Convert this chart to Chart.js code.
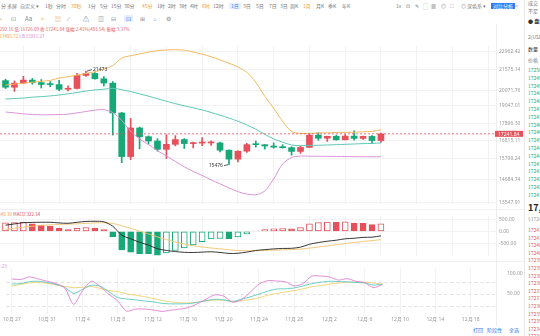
<!DOCTYPE html>
<html lang="zh-CN">
<head>
<meta charset="utf-8">
<title>BTC/USDT 日K</title>
<script src="https://cdn.jsdelivr.net/npm/chart.js@4.4.1/dist/chart.umd.min.js"></script>
<style>
  html, body { margin: 0; padding: 0; background: #fff; }
  body { width: 540px; height: 336px; position: relative; overflow: hidden;
         font-family: "Noto Sans CJK SC", "Noto Sans", sans-serif; }
  canvas { position: absolute; left: 0; }
  .t { position: absolute; white-space: nowrap; font-size: 5px; line-height: 6px; color: #777; }
  .row1 .t { top: 3px; }
  .row2 .t { top: 15px; font-size: 6px; line-height: 7px; color: #888; }
  .on { color: #f0a030 !important; }
  .sel { color: #2f7df6 !important; background: #e6efff; padding: 0 2px; }
  .btn { background: #2f7df6; color: #fff !important; padding: 0 2px; }
  .book .t { left: 528px; font-size: 5px; }
  .ask { color: #17a878 !important; }
  .bid { color: #e5505a !important; }
  .vsep { position: absolute; width: 1px; background: #e8e8e8; }
  .hsep { position: absolute; left: 0; width: 524px; height: 1px; background: #f0f0f0; }
</style>
</head>
<body>

<!-- 顶部周期栏 -->
<div class="row1">
  <span class="t" style="left:1px">分 多屏</span>
  <span class="t" style="left:20px">自定义 ▾</span>
  <span class="t" style="left:45px">1秒</span>
  <span class="t" style="left:56px">分时</span>
  <span class="t on" style="left:71px">30秒</span>
  <span class="t" style="left:88px">1分</span>
  <span class="t" style="left:100px">5分</span>
  <span class="t" style="left:111px">15分</span>
  <span class="t" style="left:124px">30分</span>
  <span class="t on" style="left:142px">45分</span>
  <span class="t" style="left:157px">1时</span>
  <span class="t" style="left:168px">2时</span>
  <span class="t" style="left:179px">3时</span>
  <span class="t" style="left:190px">4时</span>
  <span class="t on" style="left:202px">6时</span>
  <span class="t" style="left:213px">12时</span>
  <span class="t sel" style="left:229px">1日</span>
  <span class="t" style="left:243px">3日</span>
  <span class="t" style="left:256px">5日</span>
  <span class="t" style="left:269px">7日</span>
  <span class="t" style="left:280px">3日</span>
  <span class="t" style="left:290px">周K</span>
  <span class="t on" style="left:303px">1月</span>
  <span class="t" style="left:316px">月K</span>
  <span class="t" style="left:328px">季K</span>
  <span class="t" style="left:342px">年K</span>
  <span class="t" style="left:396px">1x</span>
  <span class="t" style="left:406px">⊡</span>
  <span class="t" style="left:415px">✎</span>
  <span class="t" style="left:423px">⬚</span>
  <span class="t" style="left:431px">▦</span>
  <span class="t" style="left:441px">◎</span>
  <span class="t" style="left:450px">⛶</span>
  <span class="t" style="left:461px">◎ 深色系 ▾</span>
  <span class="t btn" style="left:491px">对比分析</span>
  <span class="t" style="left:515px">&lt;</span>
</div>

<!-- 画线工具 -->
<div class="row2">
  <span class="t" style="left:0px">‹</span>
  <span class="t" style="left:11px">⊡</span>
  <span class="t" style="left:25px">Aa</span>
  <span class="t on" style="left:40px">✧</span>
  <span class="t on" style="left:55px">▤</span>
  <span class="t" style="left:68px">⁄</span>
  <span class="t" style="left:83px">⚠</span>
  <span class="t" style="left:98px">▥</span>
  <span class="t" style="left:111px">⊟</span>
  <span class="t sel" style="left:124px">⊡</span>
  <span class="t" style="left:140px">⊞</span>
  <span class="t" style="left:153px">⌂</span>
  <span class="t" style="left:166px">⚙</span>
</div>

<!-- 行情信息 -->
<span class="t" style="left:-11px;top:26px;font-size:4.5px;color:#e4606d">高:17292.16 低:16726.09 收:17241.84 涨幅:2.41%(401.54) 振幅:3.37%</span>
<span class="t" style="left:-8px;top:33px;font-size:4.5px;color:#f0a048">UB:17485.72 <span style="color:#c97fd1">LB:15911.27</span></span>
<span class="t" style="left:-13px;top:211px;font-size:4.5px;color:#f0a048">DEA:-349.39 <span style="color:#e5505a">MACD:322.14</span></span>
<span class="t" style="left:-15px;top:263px;font-size:4.5px;color:#d77fd0">RSI6:72.23</span>

<!-- 深度列表（右侧，被截断） -->
<div class="book" id="book"></div>

<div class="vsep" style="left:524px;top:0;height:336px"></div>
<div class="vsep" style="left:496px;top:24px;height:302px;background:#eeeeee"></div>
<div class="hsep" style="top:209px"></div>
<div class="hsep" style="top:261px"></div>

<canvas id="kline" width="524" height="170" style="top:40px"></canvas>
<canvas id="macd" width="524" height="52" style="top:210px"></canvas>
<canvas id="rsi" width="524" height="64" style="top:262px"></canvas>

<span class="t" style="left:473px;top:327px;color:#2f7df6">打回</span>
<span class="t" style="left:487px;top:327px;color:#2f7df6">阶段性</span>
<span class="t" style="left:509px;top:327px;color:#2f7df6">全选</span>

<script>
// 日期轴（10月27日 ~ 12月20日），K线数据只到12月8日
const dates = [
  "10月 27", "10月 28", "10月 29", "10月 30", "10月 31",
  "11月 1", "11月 2", "11月 3", "11月 4", "11月 5", "11月 6", "11月 7", "11月 8",
  "11月 9", "11月 10", "11月 11", "11月 12", "11月 13", "11月 14", "11月 15",
  "11月 16", "11月 17", "11月 18", "11月 19", "11月 20", "11月 21", "11月 22",
  "11月 23", "11月 24", "11月 25", "11月 26", "11月 27", "11月 28", "11月 29",
  "11月 30", "12月 1", "12月 2", "12月 3", "12月 4", "12月 5", "12月 6",
  "12月 7", "12月 8", "12月 9", "12月 10", "12月 11", "12月 12", "12月 13",
  "12月 14", "12月 15", "12月 16", "12月 17", "12月 18", "12月 19", "12月 20"
];

// 日K 开高低收
const opens = [20771, 20295, 20591, 20809, 20627, 20490, 20483, 20151, 20207, 21148, 21299, 20905,
  20591, 18547, 15922, 17601, 17070, 16812, 16330, 16619, 16900, 16662, 16692, 16700, 16700,
  16280, 15781, 16226, 16603, 16598, 16522, 16458, 16428, 16212, 16442, 17163, 16977, 17092,
  16885, 17105, 16967, 17088, 16840.30];
const highs = [20875, 20750, 21085, 20931, 20847, 20700, 20800, 20393, 21302, 21473, 21365, 21069,
  20700, 18587, 18199, 17658, 17119, 16954, 17190, 17134, 16960, 16751, 17011, 16820, 16753,
  16300, 16253, 16674, 16812, 16610, 16701, 16600, 16483, 16525, 17250, 17320, 17105, 17159,
  17203, 17424, 17107, 17142, 17292.16];
const lows = [20200, 20000, 20552, 20512, 20237, 20330, 20048, 20031, 20180, 21080, 20880, 20384,
  17166, 15588, 15754, 16361, 16631, 16229, 15815, 16527, 16378, 16410, 16546, 16560, 16180,
  15476, 15630, 16160, 16458, 16342, 16400, 16401, 16001, 16100, 16428, 16855, 16788, 16863,
  16878, 16867, 16906, 16678, 16726.09];
const closes = [20295, 20591, 20809, 20627, 20490, 20483, 20151, 20207, 21148, 21299, 20905, 20591,
  18547, 15922, 17601, 17070, 16812, 16330, 16619, 16900, 16662, 16692, 16700, 16700, 16280,
  15781, 16226, 16603, 16598, 16522, 16458, 16428, 16212, 16442, 17163, 16977, 17092, 16885,
  17105, 16967, 17088, 16840.30, 17241.84];

// BOLL(20,2)
const bollUpper = [20452, 20518, 20585, 20652, 20720, 20787, 20957, 21052, 21176, 21300, 21425,
  21614, 21897, 22475, 22658, 22806, 22955, 23067, 23119, 23142, 23104, 22955, 22784, 22584,
  22329, 22076, 21791, 21370, 20652, 19669, 18855, 18016, 17382, 17270, 17270, 17298, 17298,
  17326, 17326, 17343, 17365, 17394, 17485.72];
const bollMid = [19478, 19510, 19541, 19605, 19637, 19688, 19752, 19829, 19927, 20024, 20102,
  20155, 20220, 20122, 19991, 19829, 19669, 19497, 19321, 19164, 19021, 18885, 18745, 18581,
  18400, 18222, 18016, 17783, 17524, 17214, 16936, 16744, 16582, 16539, 16555, 16566, 16582,
  16600, 16620, 16640, 16660, 16675, 16698.50];
const bollLower = [18611, 18551, 18490, 18448, 18430, 18430, 18448, 18472, 18551, 18641, 18733,
  18763, 18569, 18074, 17400, 16936, 16609, 16251, 15958, 15649, 15362, 15114, 14904, 14678,
  14474, 14269, 14084, 13966, 13934, 14116, 14726, 15513, 15870, 15950, 15945, 15940, 15935,
  15930, 15925, 15920, 15915, 15912, 15911.27];

// MACD(12,26,9)
const dif = [263, 315, 366, 379, 385, 385, 358, 341, 384, 420, 427, 404, 218, -155, -314, -458,
  -580, -733, -804, -852, -885, -892, -876, -862, -889, -932, -925, -874, -808, -771, -741,
  -721, -715, -667, -545, -471, -416, -373, -313, -291, -253, -245, -188.32];
const dea = [83, 130, 177, 217, 251, 278, 294, 303, 319, 339, 357, 366, 337, 238, 128, 11, -107,
  -232, -347, -448, -535, -607, -661, -701, -739, -777, -807, -820, -818, -809, -795, -780,
  -767, -747, -707, -660, -611, -563, -513, -469, -426, -390, -349.39];
const macdHist = [360, 370, 378, 323, 269, 215, 129, 75, 129, 161, 140, 75, -237, -786, -883,
  -937, -945, -1001, -915, -808, -700, -571, -431, -323, -301, -310, -237, -108, 20, 75, 108,
  118, 105, 160, 323, 377, 390, 380, 400, 355, 345, 290, 322.14];

// RSI(6,12,24)
const rsi6 = [86.6, 85.2, 91.7, 86.6, 80.8, 75.0, 64.1, 22.9, 56.9, 80.8, 67.8, 48.2, 31.5, 6.2,
  11.3, 11.3, 9.1, 5.5, 8.4, 11.3, 14.9, 24.3, 35.9, 46.8, 43.9, 28.6, 34.4, 53.3, 73.6, 82.3,
  81.5, 79.4, 69.2, 75.0, 93.9, 93.9, 91.7, 83.7, 87.3, 80.8, 77.2, 64.9, 72.8];
const rsi12 = [73.9, 75.0, 80.1, 80.8, 77.9, 72.9, 65.6, 50.4, 60.5, 70.7, 68.5, 54.7, 40.2, 36.6,
  34.4, 31.5, 29.4, 25.7, 24.3, 24.3, 25.0, 27.9, 32.3, 35.9, 34.4, 30.1, 35.9, 41.7, 48.9, 56.2,
  61.3, 62.0, 64.2, 69.2, 75.0, 78.6, 80.8, 80.1, 79.4, 77.9, 76.5, 71.4, 73.6];
const rsi24 = [68.5, 72.9, 76.5, 77.9, 75.7, 71.4, 67.8, 64.9, 65.6, 67.8, 62.7, 57.6, 54.7, 49.7,
  46.0, 42.4, 38.1, 33.0, 29.4, 27.2, 26.5, 28.6, 31.5, 33.7, 33.0, 30.8, 32.3, 35.2, 39.5, 46.0,
  50.4, 54.0, 57.6, 62.0, 67.1, 70.0, 73.6, 76.5, 78.6, 78.6, 78.6, 76.5, 73.6];

// 坐标刻度
const priceTicks = [22962.42, 21575.14, 20071.76, 19047.01, 17896.30, 16815.11, 15799.24, 14684.74, 13547.91];
const macdTicks = [500, 0, -500];
const rsiTicks = [100, 50];
const rsiLevels = [80, 50, 20];
const lastPrice = 17241.84;

// 右侧深度（只露出一截）
const askPrices = ["17250.1", "17249.8", "17249.2", "17248.7", "17248.1", "17247.6", "17247.0",
  "17246.5", "17246.1", "17245.4", "17244.9", "17244.3", "17243.8", "17243.2", "17242.7",
  "17242.3", "17241.9"];
const bidPrices = ["17241.8", "17241.3", "17240.9", "17240.4", "17239.8", "17239.2", "17238.7",
  "17238.1", "17237.6", "17237.0", "17236.5", "17235.9", "17235.4", "17234.8", "17234.2"];

const RED = "#e5505a";
const GREEN = "#17a878";
const GRID = "#f2f2f2";
const AXIS_TXT = "#999";
const FONT = "Noto Sans, sans-serif";

// 三个面板共用的横轴：绘图区宽 496px
const X_MIN = -0.615;
const X_MAX = 54.87;
const xTickIdx = [];
for (let i = 0; i < dates.length; i += 4) xTickIdx.push(i);

function xAxis(showLabels) {
  return {
    type: "linear",
    min: X_MIN,
    max: X_MAX,
    offset: false,
    border: { display: false },
    grid: { color: GRID, drawTicks: false },
    afterBuildTicks: (s) => { s.ticks = xTickIdx.map((v) => ({ value: v })); },
    ticks: {
      display: showLabels,
      autoSkip: false,
      maxRotation: 0,
      padding: 3,
      color: AXIS_TXT,
      font: { family: FONT, size: 5 },
      callback: (v) => dates[v] || "",
    },
    afterFit: (s) => { s.height = showLabels ? 12 : 0; },
  };
}

function rightAxis(extra) {
  return Object.assign({
    position: "right",
    border: { display: false },
    grid: { color: GRID, drawTicks: false },
    ticks: {
      padding: 3,
      color: AXIS_TXT,
      font: { family: FONT, size: 5 },
      callback: (v) => Number(v).toFixed(2),
    },
    afterFit: (s) => { s.width = 28; },
  }, extra);
}

const pts = (arr) => arr.map((v, i) => ({ x: i, y: v }));
const isUp = (i) => closes[i] >= opens[i];

// 现价虚线、现价标签、最高/最低标注
const klineMarks = {
  id: "klineMarks",
  afterDatasetsDraw(chart) {
    const { ctx, chartArea, scales } = chart;
    const y = scales.y.getPixelForValue(lastPrice);
    ctx.save();
    ctx.strokeStyle = RED;
    ctx.lineWidth = 0.8;
    ctx.setLineDash([2, 2]);
    ctx.beginPath();
    ctx.moveTo(chartArea.left, y);
    ctx.lineTo(chartArea.right, y);
    ctx.stroke();
    ctx.setLineDash([]);

    ctx.fillStyle = RED;
    ctx.fillRect(chartArea.right - 1, y - 3, 28, 6);
    ctx.fillStyle = "#fff";
    ctx.font = "5px " + FONT;
    ctx.textBaseline = "middle";
    ctx.textAlign = "left";
    ctx.fillText(lastPrice.toFixed(2), chartArea.right + 2, y + 0.3);

    // 区间最高 / 最低
    const hiVal = Math.max(...highs);
    const loVal = Math.min(...lows);
    const hiIdx = highs.indexOf(hiVal);
    const loIdx = lows.indexOf(loVal);
    ctx.strokeStyle = "#333";
    ctx.fillStyle = "#333";
    ctx.lineWidth = 0.8;
    const hx = scales.x.getPixelForValue(hiIdx);
    const hy = scales.y.getPixelForValue(hiVal);
    ctx.beginPath();
    ctx.moveTo(hx + 1, hy);
    ctx.lineTo(hx + 6, hy - 1.5);
    ctx.stroke();
    ctx.fillText(String(hiVal), hx + 7, hy - 1.5);
    const lx = scales.x.getPixelForValue(loIdx);
    const ly = scales.y.getPixelForValue(loVal);
    ctx.beginPath();
    ctx.moveTo(lx - 1, ly);
    ctx.lineTo(lx - 5, ly + 1);
    ctx.stroke();
    ctx.textAlign = "right";
    ctx.fillText(String(loVal), lx - 6, ly + 1);
    ctx.restore();
  },
};

// RSI 的 20/50/80 虚线
const rsiGuides = {
  id: "rsiGuides",
  beforeDatasetsDraw(chart) {
    const { ctx, chartArea, scales } = chart;
    ctx.save();
    ctx.strokeStyle = "#d8d8d8";
    ctx.lineWidth = 0.8;
    ctx.setLineDash([3, 3]);
    rsiLevels.forEach((lv) => {
      const y = Math.round(scales.y.getPixelForValue(lv)) + 0.5;
      ctx.beginPath();
      ctx.moveTo(chartArea.left, y);
      ctx.lineTo(chartArea.right, y);
      ctx.stroke();
    });
    ctx.restore();
  },
};

const baseOpts = {
  responsive: false,
  animation: false,
  layout: { padding: 0 },
  plugins: { legend: { display: false }, tooltip: { enabled: false } },
};

// 主图：K线 + BOLL（对数坐标）
new Chart(document.getElementById("kline"), {
  type: "bar",
  data: {
    datasets: [
      {
        label: "影线",
        data: lows.map((l, i) => ({ x: i, y: [l, highs[i]] })),
        backgroundColor: (c) => (isUp(c.dataIndex) ? RED : GREEN),
        barThickness: 1,
        grouped: false,
        order: 2,
      },
      {
        label: "实体",
        data: opens.map((o, i) => ({ x: i, y: [o, closes[i]] })),
        backgroundColor: (c) => (isUp(c.dataIndex) ? RED : GREEN),
        barThickness: 6,
        minBarLength: 1,
        grouped: false,
        order: 1,
      },
      { type: "line", label: "UB", data: pts(bollUpper), borderColor: "#f5b75e", borderWidth: 1, pointRadius: 0, tension: 0.3, order: 0 },
      { type: "line", label: "MB", data: pts(bollMid), borderColor: "#5cc8b6", borderWidth: 1, pointRadius: 0, tension: 0.3, order: 0 },
      { type: "line", label: "LB", data: pts(bollLower), borderColor: "#dc93d8", borderWidth: 1, pointRadius: 0, tension: 0.3, order: 0 },
    ],
  },
  options: Object.assign({}, baseOpts, {
    scales: {
      x: xAxis(false),
      y: rightAxis({
        type: "logarithmic",
        min: 13488,
        max: 23445,
        afterBuildTicks: (s) => { s.ticks = priceTicks.map((v) => ({ value: v })); },
      }),
    },
  }),
  plugins: [klineMarks],
});

// MACD 副图：柱子比前一根小则实心，否则空心
const histColor = (i) => (macdHist[i] >= 0 ? RED : GREEN);
const histSolid = (i) => i > 0 && macdHist[i] < macdHist[i - 1];
new Chart(document.getElementById("macd"), {
  type: "bar",
  data: {
    datasets: [
      {
        label: "MACD",
        data: pts(macdHist),
        backgroundColor: (c) => (histSolid(c.dataIndex) ? histColor(c.dataIndex) : "#fff"),
        borderColor: (c) => histColor(c.dataIndex),
        borderWidth: 1,
        borderSkipped: false,
        barThickness: 6,
        order: 2,
      },
      { type: "line", label: "DIF", data: pts(dif), borderColor: "#222", borderWidth: 0.9, pointRadius: 0, tension: 0.3, order: 1 },
      { type: "line", label: "DEA", data: pts(dea), borderColor: "#f3c36b", borderWidth: 0.9, pointRadius: 0, tension: 0.3, order: 1 },
    ],
  },
  options: Object.assign({}, baseOpts, {
    scales: {
      x: xAxis(false),
      y: rightAxis({
        min: -1040,
        max: 650,
        afterBuildTicks: (s) => { s.ticks = macdTicks.map((v) => ({ value: v })); },
      }),
    },
  }),
});

// RSI 副图 + 日期轴
new Chart(document.getElementById("rsi"), {
  type: "line",
  data: {
    datasets: [
      { label: "RSI6", data: pts(rsi6), borderColor: "#e07fd3", borderWidth: 0.9, pointRadius: 0, tension: 0.25 },
      { label: "RSI12", data: pts(rsi12), borderColor: "#56c9c0", borderWidth: 0.9, pointRadius: 0, tension: 0.25 },
      { label: "RSI24", data: pts(rsi24), borderColor: "#f0cf6e", borderWidth: 0.9, pointRadius: 0, tension: 0.25 },
    ],
  },
  options: Object.assign({}, baseOpts, {
    scales: {
      x: xAxis(true),
      y: rightAxis({
        min: -1,
        max: 114,
        grid: { display: false },
        afterBuildTicks: (s) => { s.ticks = rsiTicks.map((v) => ({ value: v })); },
      }),
    },
  }),
  plugins: [rsiGuides],
});

// 深度列表
const book = document.getElementById("book");
function bookLine(text, top, cls, extra) {
  const el = document.createElement("span");
  el.className = "t " + (cls || "");
  el.style.top = top + "px";
  el.textContent = text;
  if (extra) Object.assign(el.style, extra);
  book.appendChild(el);
}
bookLine("成交", 0, "");
bookLine("不足", 8, "");
bookLine("● 盘口", 18, "", { color: "#333", fontWeight: "bold" });
bookLine("2(USDT)", 34, "");
bookLine("数量", 46, "", { color: "#333" });
bookLine("价格", 57, "");
askPrices.forEach((p, k) => bookLine(p, 67 + k * 7.8, "ask"));
bookLine("17,241.84", 203, "", { color: "#222", fontSize: "9px", lineHeight: "10px", fontWeight: "bold" });
bookLine("$17241.84", 216, "", { color: "#999" });
bidPrices.forEach((p, k) => bookLine(p, 227 + k * 7.6, "bid"));
</script>
</body>
</html>
